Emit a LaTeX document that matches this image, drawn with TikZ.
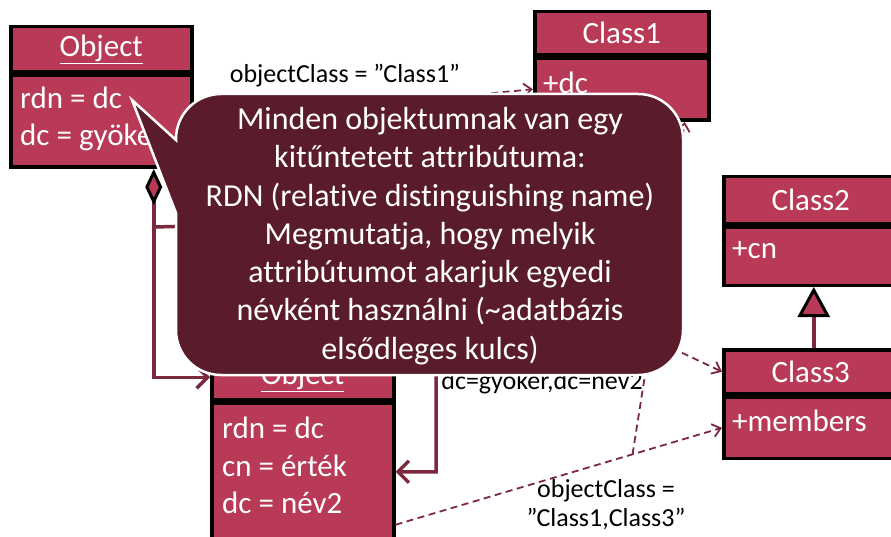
\documentclass[tikz,border=0pt]{standalone}
\usepackage{fontspec}
\setmainfont{Carlito}[Ligatures=NoCommon]
\usetikzlibrary{arrows.meta,calc}
\definecolor{boxfill}{RGB}{184,58,86}
\definecolor{calloutfill}{RGB}{90,28,42}
\definecolor{connred}{RGB}{123,42,62}
\tikzset{
  classhead/.style={draw=black, line width=3.5pt, fill=boxfill, text=white,
    font=\fontsize{31}{36}\selectfont, inner sep=0pt, anchor=north west},
  classbody/.style={draw=black, line width=3.5pt, fill=boxfill, inner sep=0pt,
    anchor=north west},
  bodytxt/.style={text=white, font=\fontsize{31}{36}\selectfont, inner sep=0pt,
    anchor=base west},
  solidconn/.style={draw=connred, line width=3.5pt},
  dashconn/.style={draw=connred, line width=1.8pt, dash pattern=on 7pt off 4.5pt,
    -{Straight Barb[length=8pt,width=13pt,line width=1.8pt]}},
  lbl/.style={text=black, font=\fontsize{26}{29}\selectfont, inner sep=0pt},
  callout/.style={fill=calloutfill, draw=white, line width=2.5pt},
  callouttxt/.style={text=white, font=\fontsize{32}{38.3}\selectfont, align=center, inner sep=0pt}
}
\begin{document}
\begin{tikzpicture}[x=1pt,y=-1pt]
\useasboundingbox (0,0) rectangle (891,537);

% root object
\node[classhead, minimum width=181pt, minimum height=45pt] (o1h) at (9,25) {\underline{Object}};
\node[classbody, minimum width=181pt, minimum height=92pt] (o1b) at (o1h.south west) {};
\node[bodytxt] (o1r1) at ($(o1b.north west)+(11,35)$) {rdn = dc};
\node[bodytxt] (o1r2) at ($(o1b.north west)+(11,72)$) {dc = gyökér};

% child object
\node[classhead, minimum width=182pt, minimum height=45pt] (o2h) at (210,353) {\underline{Object}};
\node[classbody, minimum width=182pt, minimum height=137pt] (o2b) at (o2h.south west) {};
\node[bodytxt] (o2r1) at ($(o2b.north west)+(12,37)$) {rdn = dc};
\node[bodytxt] (o2r2) at ($(o2b.north west)+(12,75)$) {cn = érték};
\node[bodytxt] (o2r3) at ($(o2b.north west)+(12,112)$) {dc = név2};

% classes
\node[classhead, minimum width=174pt, minimum height=43pt] (c1h) at (533,10) {Class1};
\node[classbody, minimum width=174pt, minimum height=62pt] (c1b) at (c1h.south west) {};
\node[bodytxt] (c1r1) at ($(c1b.north west)+(10,37)$) {+dc};

\node[classhead, minimum width=174pt, minimum height=47pt] (c2h) at (722,175) {Class2};
\node[classbody, minimum width=174pt, minimum height=58pt] (c2b) at (c2h.south west) {};
\node[bodytxt] (c2r1) at ($(c2b.north west)+(10,33)$) {+cn};

\node[classhead, minimum width=174pt, minimum height=44pt] (c3h) at (722,348) {Class3};
\node[classbody, minimum width=174pt, minimum height=61pt] (c3b) at (c3h.south west) {};
\node[bodytxt] (c3r1) at ($(c3b.north west)+(10,36)$) {+members};

% aggregation from the root object to the child object
\coordinate (aggstart) at ([xshift=52.5pt]o1b.south);
\coordinate (branch) at ($(aggstart)+(0,58)$);
\coordinate (bend) at (436,220);
\draw[solidconn, {Diamond[length=36pt,width=17pt,fill=boxfill,color=black,line width=3pt]}-{Straight Barb[length=11pt,width=22pt]}]
  (aggstart) |- (o2h.west);
\draw[solidconn, -{Straight Barb[length=11pt,width=22pt]}] (branch) -- (bend) |- (o2b.east);

% generalization Class3 -> Class2
\draw[solidconn, -{Triangle[length=30pt,width=32pt,fill=boxfill,color=black,line width=3pt]}]
  ([xshift=3pt]c3h.north) -- ([xshift=3pt]c2b.south);

% instance-of links
\draw[dashconn] (o1b.east) -- (c1b.west);
\draw[dashconn] (o1b.east) -- (c3h.west);
\coordinate (o2out) at ([yshift=-53pt]o2b.east);
\draw[dashconn] (o2out) -- (c3b.west);
\coordinate (split) at ($(o2out)!0.726!(c3b.west)$);
\draw[dashconn] (split) -- ([xshift=63pt]c1b.south);

% labels
\node[lbl, anchor=base] (lblc1) at (345,83) {objectClass = ”Class1”};
\node[lbl, anchor=base] (lbldn) at (542,389) {dc=gyökér,dc=név2};
\node[lbl, align=center] (lblc13) at (606,505) {objectClass =\\”Class1,Class3”};

% speech bubble
\path[callout] (132,100) -- (176,140) -- (176,139)
  .. controls (176,114.1) and (196.1,94) .. (221,94) -- (638,94)
  .. controls (662.9,94) and (683,114.1) .. (683,139) -- (683,330)
  .. controls (683,354.9) and (662.9,375) .. (638,375) -- (221,375)
  .. controls (196.1,375) and (176,354.9) .. (176,330) -- (176,213) -- cycle;
\node[callouttxt] (note) at (430,236) {Minden objektumnak van egy\\kitűntetett attribútuma:\\RDN (relative distinguishing name)\\Megmutatja, hogy melyik\\attribútumot akarjuk egyedi\\névként használni (\textasciitilde adatbázis\\elsődleges kulcs)};
\end{tikzpicture}
\end{document}
